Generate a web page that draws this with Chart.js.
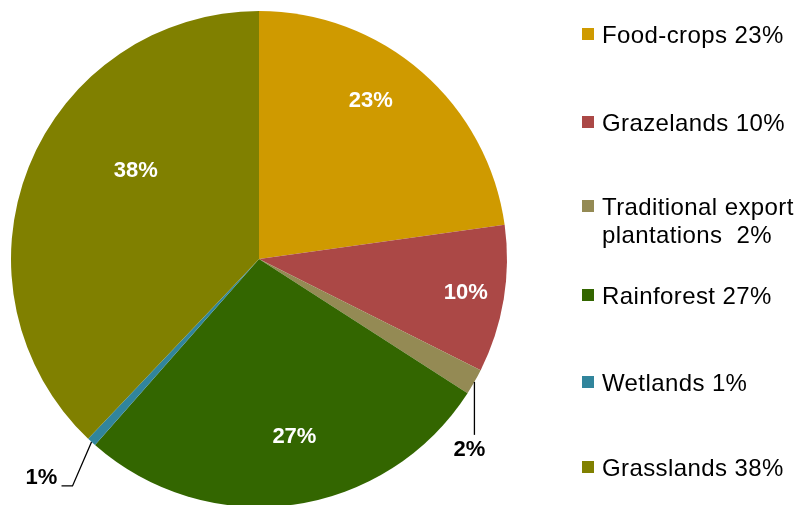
<!DOCTYPE html>
<html>
<head>
<meta charset="utf-8">
<script src="https://cdn.jsdelivr.net/npm/chart.js@4.4.0/dist/chart.umd.min.js"></script>
<style>
  html, body { margin: 0; padding: 0; background: #fff; overflow: hidden; }
  #wrap { position: relative; width: 798px; height: 505px; overflow: hidden; }
  #pie { position: absolute; left: 0; top: 0; }
  #legend { position: absolute; left: 582px; top: 0; font-family: "Liberation Sans", Arial, sans-serif;
            font-size: 24px; line-height: 28px; letter-spacing: 0.4px; color: #000; }
  .item { position: absolute; left: 0; white-space: pre; }
  .item .sw { position: absolute; left: 0; top: 7px; width: 12px; height: 12px; }
  .item .tx { position: absolute; left: 20px; top: 0; }
</style>
</head>
<body>
<div id="wrap">
  <canvas id="pie" width="798" height="520"></canvas>
  <div id="legend"></div>
</div>
<script>
// data
const categories = ['Food-crops', 'Grazelands', 'Traditional export plantations', 'Rainforest', 'Wetlands', 'Grasslands'];
const shares = [22.8, 9.6, 1.7, 27.4, 0.6, 37.9];
const legendLabels = ['Food-crops 23%', 'Grazelands 10%', 'Traditional export\nplantations  2%', 'Rainforest 27%', 'Wetlands 1%', 'Grasslands 38%'];
const colors = ['#CF9A00', '#AB4846', '#948A54', '#336600', '#31859C', '#808000'];

// legend layout (top of each entry, px)
const legendTop = [21, 109, 193, 282, 369, 454];

const legend = document.getElementById('legend');
legendLabels.forEach((txt, i) => {
  const item = document.createElement('div');
  item.className = 'item';
  item.style.top = legendTop[i] + 'px';
  item.innerHTML = `<span class="sw" style="background:${colors[i]}"></span><span class="tx"></span>`;
  item.querySelector('.tx').textContent = txt;
  legend.appendChild(item);
});

// where each percentage label goes: inside (t along the slice, r as share of radius)
// or outside with a leader line starting from the rim at mid-angle
const placement = [
  { t: 0.43, r: 0.78 },
  { t: 0.50, r: 0.845 },
  { out: true, line: [[0, 53]], text: [-5, 68] },
  { t: 0.466, r: 0.73 },
  { out: true, line: [[-19, 44], [-30, 44]], text: [-50, 36] },
  { t: 0.60, r: 0.61 }
];

const pieLabels = {
  id: 'pieLabels',
  afterDatasetsDraw(chart) {
    const ctx = chart.ctx;
    const arcs = chart.getDatasetMeta(0).data;
    ctx.save();
    ctx.font = 'bold 22px "Liberation Sans", Arial, sans-serif';
    ctx.textAlign = 'center';
    ctx.textBaseline = 'middle';
    arcs.forEach((arc, i) => {
      const { x, y, startAngle, endAngle, outerRadius } = arc.getProps(['x', 'y', 'startAngle', 'endAngle', 'outerRadius'], true);
      const p = placement[i];
      const txt = Math.round(shares[i]) + '%';
      if (p.out) {
        const a = (startAngle + endAngle) / 2;
        const ex = x + Math.cos(a) * outerRadius;
        const ey = y + Math.sin(a) * outerRadius;
        ctx.strokeStyle = '#000';
        ctx.lineWidth = 1.3;
        ctx.beginPath();
        ctx.moveTo(ex, ey);
        p.line.forEach(([dx, dy]) => ctx.lineTo(ex + dx, ey + dy));
        ctx.stroke();
        ctx.fillStyle = '#000';
        ctx.fillText(txt, ex + p.text[0], ey + p.text[1]);
      } else {
        const a = startAngle + p.t * (endAngle - startAngle);
        const r = p.r * outerRadius;
        ctx.fillStyle = '#fff';
        ctx.fillText(txt, x + Math.cos(a) * r, y + Math.sin(a) * r);
      }
    });
    ctx.restore();
  }
};

new Chart(document.getElementById('pie'), {
  type: 'pie',
  data: {
    labels: categories,
    datasets: [{
      data: shares,
      backgroundColor: colors,
      borderWidth: 0
    }]
  },
  options: {
    responsive: false,
    animation: false,
    layout: { padding: { left: 11, top: 11, right: 291, bottom: 13 } },
    plugins: { legend: { display: false }, tooltip: { enabled: false } }
  },
  plugins: [pieLabels]
});
</script>
</body>
</html>
